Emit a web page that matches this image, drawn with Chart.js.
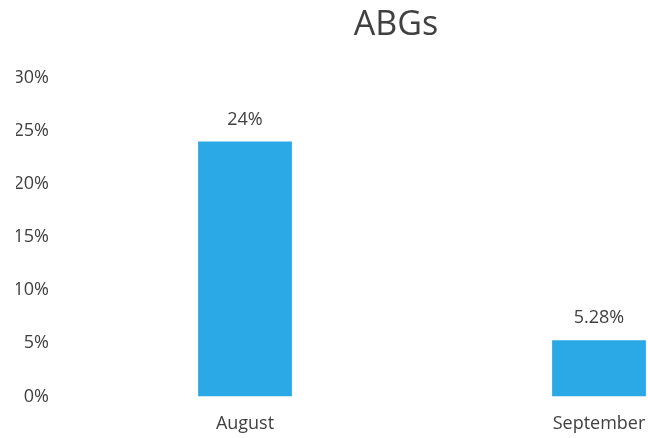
<!DOCTYPE html>
<html>
<head>
<meta charset="utf-8">
<script src="https://cdn.jsdelivr.net/npm/chart.js@4/dist/chart.umd.min.js"></script>
<style>
  html, body { margin: 0; padding: 0; background: #fff; overflow: hidden; }
  /* the original chart runs past the right and bottom edge of the picture */
  #wrap { width: 800px; height: 448px; }
</style>
</head>
<body>
<div id="wrap"><canvas id="chart"></canvas></div>
<script>
// Data
const categories = ['August', 'September'];
const values = [24, 5.28];
const valueLabels = ['24%', '5.28%'];

const FONT = '"Open Sans", sans-serif';

// Draws the value above each bar, using the bar positions from the dataset meta
const barValueLabels = {
    id: 'barValueLabels',
    afterDatasetsDraw(chart) {
        const ctx = chart.ctx;
        const meta = chart.getDatasetMeta(0);
        ctx.save();
        ctx.font = '18px ' + FONT;
        ctx.fillStyle = '#404040';
        ctx.textAlign = 'center';
        ctx.textBaseline = 'alphabetic';
        meta.data.forEach((bar, i) => {
            ctx.fillText(valueLabels[i], bar.x, bar.y - 17);
        });
        ctx.restore();
    }
};

const ctx = document.getElementById('chart').getContext('2d');
new Chart(ctx, {
    type: 'bar',
    data: {
        labels: categories,
        datasets: [{
            data: values,
            backgroundColor: '#2AA9E6',
            borderWidth: 0,
            categoryPercentage: 0.265,
            barPercentage: 1
        }]
    },
    options: {
        responsive: true,
        maintainAspectRatio: false,
        animation: false,
        layout: { padding: { left: 16, right: 24, top: 5, bottom: 4 } },
        scales: {
            x: {
                grid: { display: false },
                border: { display: false },
                ticks: { color: '#404040', font: { family: FONT, size: 18 }, padding: 9 }
            },
            y: {
                min: 0,
                max: 30,
                grid: { display: false },
                border: { display: false },
                afterFit: scale => { scale.width = 52; },
                ticks: {
                    stepSize: 5,
                    color: '#404040',
                    padding: 11,
                    font: { family: FONT, size: 18 },
                    callback: v => v + '%'
                }
            }
        },
        plugins: {
            legend: { display: false },
            tooltip: { enabled: false },
            title: {
                display: true,
                text: 'ABGs',
                color: '#404040',
                font: { family: FONT, size: 34, weight: 'normal' },
                padding: { top: 0, bottom: 32 }
            }
        }
    },
    plugins: [barValueLabels]
});
</script>
</body>
</html>
